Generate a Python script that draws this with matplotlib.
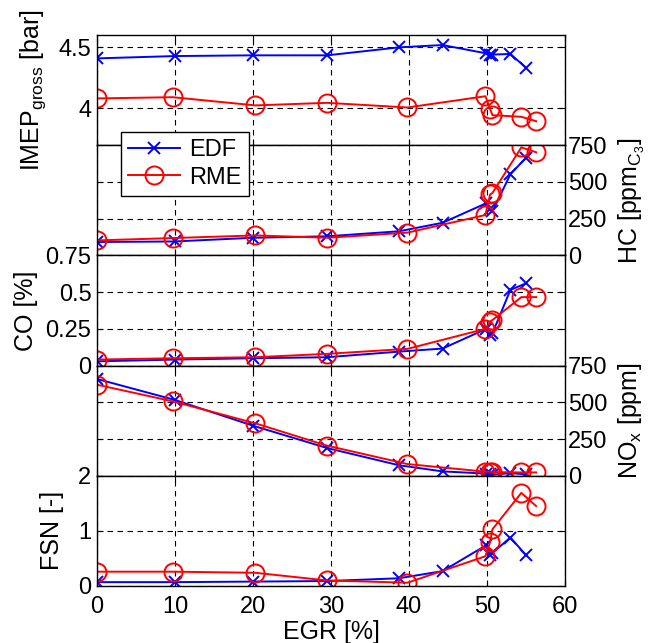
import matplotlib
matplotlib.use("Agg")
import matplotlib.pyplot as plt

plt.rcParams["font.family"] = ["Liberation Sans", "DejaVu Sans"]
plt.rcParams["mathtext.fontset"] = "custom"
plt.rcParams["mathtext.rm"] = "Liberation Sans"
plt.rcParams["mathtext.it"] = "Liberation Sans:italic"
plt.rcParams["font.size"] = 17

# EGR [%] for each fuel
egr_edf = [0, 10, 20, 29.5, 38.7, 44.3, 49.9, 50.4, 50.7, 53.0, 55.0]
egr_rme = [0, 9.7, 20.3, 29.5, 39.8, 49.8, 50.4, 50.7, 54.4, 56.3]

# IMEP gross [bar]
imep_edf = [4.409, 4.428, 4.434, 4.434, 4.499, 4.518, 4.45, 4.44, 4.44, 4.445, 4.333]
imep_rme = [4.082, 4.092, 4.025, 4.046, 4.008, 4.10, 3.995, 3.945, 3.932, 3.896]

# HC [ppm C3]
hc_edf = [91, 95, 120, 130, 164, 222, 355, 315, 300, 552, 665]
hc_rme = [102, 118, 136, 120, 155, 275, 415, 425, 735, 702]

# CO [%]
co_edf = [0.029, 0.041, 0.05, 0.057, 0.095, 0.116, 0.25, 0.205, 0.22, 0.515, 0.56]
co_rme = [0.041, 0.05, 0.057, 0.08, 0.114, 0.25, 0.30, 0.31, 0.466, 0.466]

# NOx [ppm]
nox_edf = [659, 516, 341, 189, 72, 30, 15, 10, 8, 18, 10]
nox_rme = [620, 507, 357, 205, 80, 28, 28, 25, 23, 23]

# FSN [-]
fsn_edf = [0.07, 0.07, 0.08, 0.09, 0.14, 0.27, 0.74, 0.57, 0.60, 0.88, 0.56]
fsn_rme = [0.26, 0.26, 0.24, 0.10, 0.06, 0.54, 0.80, 1.03, 1.69, 1.45]

panels = [
    (imep_edf, imep_rme, r"IMEP$_{\mathrm{gross}}$ [bar]", (3.7, 4.6), [4, 4.5], ["4", "4.5"], "left"),
    (hc_edf, hc_rme, r"HC [ppm$_{\mathrm{C}_{3}}$]", (0, 750), [0, 250, 500, 750], ["0", "250", "500", "750"], "right"),
    (co_edf, co_rme, "CO [%]", (0, 0.75), [0, 0.25, 0.5, 0.75], ["0", "0.25", "0.5", "0.75"], "left"),
    (nox_edf, nox_rme, r"NO$_{\mathrm{x}}$ [ppm]", (0, 750), [0, 250, 500, 750], ["0", "250", "500", "750"], "right"),
    (fsn_edf, fsn_rme, "FSN [-]", (0, 2), [0, 1, 2], ["0", "1", "2"], "left"),
]

W, H = 661, 643
fig = plt.figure(figsize=(W / 100, H / 100), dpi=100)

x0, x1 = 97, 565
top = 35
ph = 110.2
label_x = {"IMEP": -0.105, "CO": -0.125, "FSN": -0.07}

axes = []
for i, (edf, rme, label, ylim, ticks, ticklabels, side) in enumerate(panels):
    ptop = top + i * ph
    ax = fig.add_axes([x0 / W, 1 - (ptop + ph) / H, (x1 - x0) / W, ph / H])
    ax.plot(egr_edf, edf, color="blue", marker="x", markersize=8, mew=1.4, lw=1.4, label="EDF")
    ax.plot(egr_rme, rme, color="red", marker="o", markersize=13, mfc="none", mew=1.4, lw=1.4, label="RME")
    ax.set_xlim(0, 60)
    ax.set_ylim(*ylim)
    ax.set_xticks([0, 10, 20, 30, 40, 50, 60])
    ax.set_yticks(ticks)
    ax.set_yticklabels(ticklabels)
    ax.grid(True, color="black", linestyle=(0, (5, 4)), linewidth=0.8)
    ax.tick_params(direction="in", length=4, top=True, right=True, left=True, width=0.8)
    for s in ax.spines.values():
        s.set_linewidth(1.0)
    if side == "right":
        ax.yaxis.set_label_position("right")
        ax.tick_params(labelleft=False, labelright=True, pad=2)
        ax.set_ylabel(label, fontsize=18)
        ax.yaxis.set_label_coords(1.11, 0.5)
    else:
        ax.tick_params(labelleft=True, labelright=False, pad=4)
        ax.set_ylabel(label, fontsize=18)
        key = label.split()[0].split("$")[0]
        ax.yaxis.set_label_coords(label_x.get(key, -0.1), 0.5)
    if i < len(panels) - 1:
        ax.tick_params(labelbottom=False)
    else:
        ax.tick_params(axis="x", pad=7)
        ax.set_xlabel("EGR [%]", fontsize=18)
        ax.xaxis.set_label_coords(0.5, -0.305)
    axes.append(ax)

handles, labels = axes[0].get_legend_handles_labels()
leg = fig.legend(handles, labels, loc="upper left",
                 bbox_to_anchor=(120.7 / W, 1 - 131.7 / H),
                 borderaxespad=0, fontsize=17, handlelength=2.2,
                 fancybox=False, framealpha=1, edgecolor="black",
                 borderpad=0.3, labelspacing=0.25, handletextpad=0.4)
leg.get_frame().set_linewidth(1.0)

fig.savefig("out.png", dpi=100)
